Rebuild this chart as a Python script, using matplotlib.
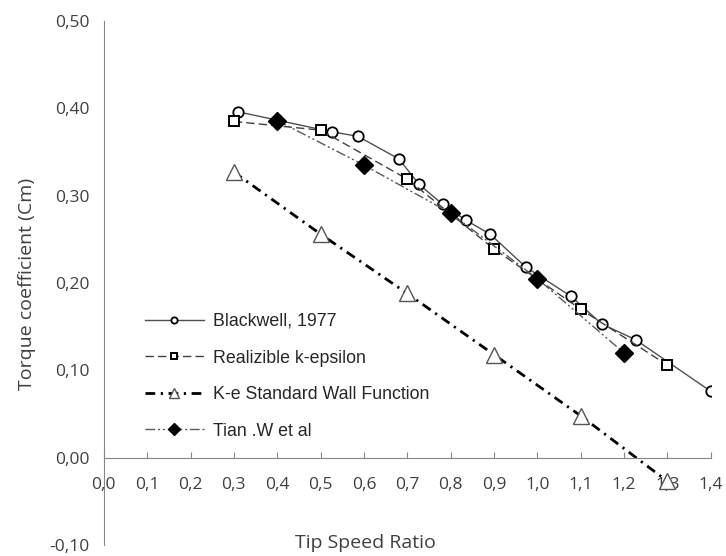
import matplotlib
matplotlib.use("Agg")
import matplotlib.pyplot as plt
from matplotlib.ticker import FuncFormatter, MultipleLocator

# data
blackwell_x = [0.31, 0.527, 0.586, 0.681, 0.727, 0.782, 0.835, 0.891, 0.974, 1.077, 1.149, 1.227, 1.40]
blackwell_y = [0.396, 0.373, 0.368, 0.342, 0.313, 0.290, 0.272, 0.256, 0.218, 0.185, 0.153, 0.135, 0.076]

realiz_x = [0.3, 0.5, 0.7, 0.9, 1.1, 1.3]
realiz_y = [0.385, 0.375, 0.319, 0.239, 0.170, 0.106]

kestd_x = [0.3, 0.5, 0.7, 0.9, 1.1, 1.3]
kestd_y = [0.327, 0.256, 0.188, 0.118, 0.048, -0.027]

tian_x = [0.4, 0.6, 0.8, 1.0, 1.2]
tian_y = [0.386, 0.335, 0.280, 0.205, 0.120]

labels = ["Blackwell, 1977", "Realizible k-epsilon", "K-e Standard Wall Function", "Tian .W et al"]

W, H = 726, 556
fig = plt.figure(figsize=(W / 100, H / 100), dpi=100)
ax = fig.add_axes([103.8 / W, 11 / H, 606.9 / W, 524 / H])

grey = "#868686"

ax.plot(blackwell_x, blackwell_y, color="#505050", lw=1, marker="o", ms=7.5,
        mfc="white", mec="black", mew=1.3, label=labels[0])
ax.plot(realiz_x, realiz_y, color="#404040", lw=1, dashes=[6, 3], marker="s", ms=7,
        mfc="white", mec="black", mew=1.4, label=labels[1])
ax.plot(kestd_x, kestd_y, color="black", lw=2, dashes=[3.5, 2, 0.8, 2], marker="^", ms=11.5,
        mfc="white", mec="#555555", mew=1, label=labels[2])
ax.plot(tian_x, tian_y, color="#595959", lw=1, dashes=[7, 2, 1.5, 2, 1.5, 2], marker="D", ms=9.5,
        mfc="black", mec="black", label=labels[3])

ax.set_xlim(0, 1.4)
ax.set_ylim(-0.1, 0.5)

for s in ["top", "right"]:
    ax.spines[s].set_visible(False)
ax.spines["bottom"].set_position(("data", 0))
ax.spines["bottom"].set_color(grey)
ax.spines["left"].set_color(grey)

ax.xaxis.set_major_locator(MultipleLocator(0.1))
ax.yaxis.set_major_locator(MultipleLocator(0.1))
ax.xaxis.set_major_formatter(FuncFormatter(lambda v, p: ("%.1f" % v).replace(".", ",")))
ax.yaxis.set_major_formatter(FuncFormatter(lambda v, p: ("%.2f" % v).replace(".", ",")))
ax.tick_params(axis="x", direction="in", length=4.5, color=grey, pad=14,
               labelsize=12.5, labelcolor="#404040")
ax.tick_params(axis="y", length=0, pad=10, labelsize=12.5, labelcolor="#404040")
for t in ax.get_xticklabels() + ax.get_yticklabels():
    t.set_fontfamily("Open Sans")

fig.text(365 / W, 1 - 543 / H, "Tip Speed Ratio", ha="center", va="center",
         fontsize=14, family="Open Sans", color="#404040")
fig.text(27 / W, 1 - 284 / H, "Torque coefficient (Cm)", ha="center", va="center",
         rotation=90, fontsize=14, family="Open Sans", color="#404040")

leg = ax.legend(loc="upper left", bbox_to_anchor=(145 / W, 1 - 313 / H),
                bbox_transform=fig.transFigure, frameon=False, borderpad=0, borderaxespad=0,
                handlelength=3.3, handletextpad=0.5, labelspacing=1.1, markerscale=0.6,
                prop={"family": "Liberation Sans", "size": 12.8})
for t in leg.get_texts():
    t.set_color("#262626")

fig.savefig("out.png", dpi=100)
